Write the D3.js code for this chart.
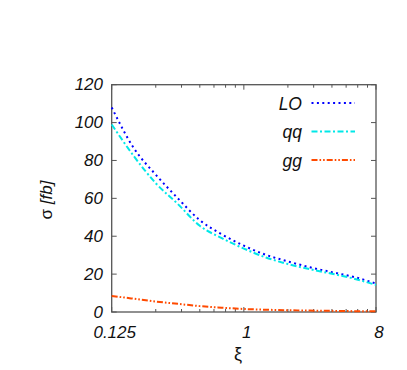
<!DOCTYPE html>
<html>
<head>
<meta charset="utf-8">
<script src="https://cdn.jsdelivr.net/npm/d3@7"></script>
<style>
  body { margin: 0; background: #fff; }
  text { font-family: "Liberation Sans", Helvetica, Arial, sans-serif; }
</style>
</head>
<body>
<svg id="chart" width="407" height="370"></svg>
<script>
var width = 407, height = 370;
var margin = {left: 111.7, right: 31, top: 84.7, bottom: 58};

// values
var xi = [0.125, 0.177, 0.25, 0.354, 0.5, 0.707, 1, 1.414, 2, 2.83, 4, 5.66, 8];
var lo = [108, 86.5, 72.5, 60, 48.5, 41, 35, 30.2, 26.7, 23.6, 21, 18.5, 15];
var qq = [99, 82.3, 68, 57, 45.5, 39, 33.5, 28.8, 25.3, 22.6, 20.2, 17.6, 14.3];
var gg = [8.5, 7.0, 5.5, 4.3, 3.1, 2.3, 1.6, 1.2, 0.95, 0.75, 0.6, 0.45, 0.35];

var x_major = [0.125, 1, 8];
var x_labels = ["0.125", "1", "8"];
var y_ticks = [0, 20, 40, 60, 80, 100, 120];

var series = [
  {name: "LO", values: lo, color: "#0000ff", dash: "2,3.4"},
  {name: "qq", values: qq, color: "#00e8e8", dash: "6,2.5,2,2.5"},
  {name: "gg", values: gg, color: "#ff4a00", dash: "6,2,1.6,2,1.6,2"}
];

var svg = d3.select("#chart");
var x0 = margin.left, x1 = width - margin.right,
    y0 = height - margin.bottom, y1 = margin.top;

var scale_x = d3.scaleLog().base(2).domain([0.125, 8]).range([x0, x1]);
var scale_y = d3.scaleLinear().domain([0, 120]).range([y0, y1]);

// minor ticks: 2..7 times each major
var x_minor = [];
x_major.slice(0, 2).forEach(function(m) {
  for (var k = 2; k < 8; k++) x_minor.push(m * k);
});

/*
* frame and ticks
*/
var frame_col = "#555";

svg.append("rect")
  .attr("x", x0).attr("y", y1)
  .attr("width", x1 - x0).attr("height", y0 - y1)
  .attr("fill", "none")
  .attr("stroke", frame_col)
  .attr("stroke-width", 1.3);

var tick_g = svg.append("g").attr("stroke", frame_col).attr("stroke-width", 1);

x_major.concat(x_minor).forEach(function(v) {
  var len = x_major.indexOf(v) >= 0 ? 5 : 3;
  var px = scale_x(v);
  tick_g.append("line").attr("x1", px).attr("x2", px).attr("y1", y0).attr("y2", y0 - len);
  tick_g.append("line").attr("x1", px).attr("x2", px).attr("y1", y1).attr("y2", y1 + len);
});

y_ticks.forEach(function(v) {
  var py = scale_y(v);
  tick_g.append("line").attr("x1", x0).attr("x2", x0 + 5).attr("y1", py).attr("y2", py);
  tick_g.append("line").attr("x1", x1).attr("x2", x1 - 5).attr("y1", py).attr("y2", py);
});

/*
* tick labels
*/
svg.selectAll("text.ylab")
  .data(y_ticks)
  .enter().append("text")
  .attr("class", "ylab")
  .attr("x", 103)
  .attr("y", function(d) { return scale_y(d) + 5.5; })
  .attr("text-anchor", "end")
  .attr("font-size", 17)
  .attr("font-style", "italic")
  .attr("fill", "#111")
  .text(function(d) { return d; });

svg.selectAll("text.xlab")
  .data(x_major)
  .enter().append("text")
  .attr("class", "xlab")
  .attr("x", function(d) { return scale_x(d) + 3; })
  .attr("y", 337.5)
  .attr("text-anchor", "middle")
  .attr("font-size", 17)
  .attr("font-style", "italic")
  .attr("fill", "#111")
  .text(function(d, i) { return x_labels[i]; });

// axis titles
svg.append("text")
  .attr("transform", "translate(52,200) rotate(-90)")
  .attr("text-anchor", "middle")
  .attr("font-size", 17)
  .attr("fill", "#111")
  .html('σ <tspan font-style="italic">[fb]</tspan>');

svg.append("text")
  .attr("x", 238)
  .attr("y", 360)
  .attr("text-anchor", "middle")
  .attr("font-size", 18)
  .attr("fill", "#111")
  .text("ξ");

/*
* curves
*/
var line_function = d3.line()
  .x(function(d) { return scale_x(d[0]); })
  .y(function(d) { return scale_y(d[1]); })
  .curve(d3.curveMonotoneX);

var curve_g = svg.append("g");
series.forEach(function(s) {
  curve_g.append("path")
    .attr("d", line_function(xi.map(function(v, i) { return [v, s.values[i]]; })))
    .attr("fill", "none")
    .attr("stroke", s.color)
    .attr("stroke-width", 2)
    .attr("stroke-dasharray", s.dash);
});

/*
* legend
*/
var legend_g = svg.append("g");
series.forEach(function(s, i) {
  var ly = 103 + i * 28.5;
  legend_g.append("text")
    .attr("x", 302)
    .attr("y", ly + 6.5)
    .attr("text-anchor", "end")
    .attr("font-size", 17.5)
    .attr("font-style", "italic")
    .attr("fill", "#111")
    .text(s.name);
  legend_g.append("line")
    .attr("x1", 311.5).attr("x2", 355)
    .attr("y1", ly).attr("y2", ly)
    .attr("stroke", s.color)
    .attr("stroke-width", 2)
    .attr("stroke-dasharray", s.dash);
});
</script>
</body>
</html>
